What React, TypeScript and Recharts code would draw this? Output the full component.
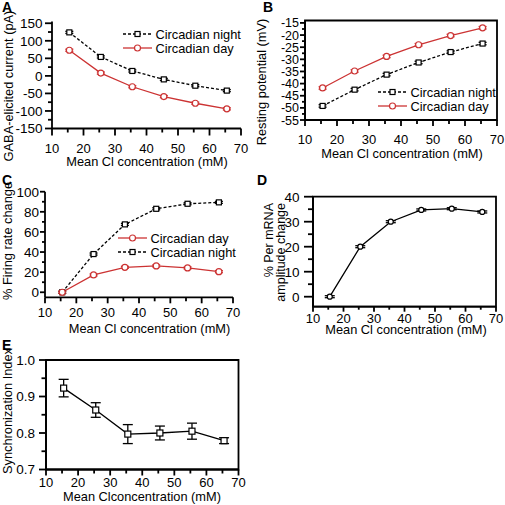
import React from "react";
import { LineChart, Line, XAxis, YAxis, ErrorBar, Legend, ReferenceArea } from "recharts";

const font = "'Liberation Sans', Arial, sans-serif";
const red = "#cc3333";

// shared x values (mean Cl- concentration, mM)
const conc = [15.5, 25.5, 35.5, 45.5, 55.5, 65.5];
const xMajor = [10, 20, 30, 40, 50, 60, 70];
const xMinor = [15, 25, 35, 45, 55, 65];

// A - GABA-elicited current (pA)
const aNight = [124, 54, 14, -10, -28, -42];
const aDay = [73, 8, -31, -59, -78, -94];
const aNightErr = [3, 3, 3, 3, 3, 3];
const aDayErr = [3, 3, 3, 3, 3, 3];
const aYMajor = [-150, -100, -50, 0, 50, 100, 150];
const aYMinor = [-125, -75, -25, 25, 75, 125];

// B - resting potential (mV)
const bNight = [-49.2, -42.5, -36.3, -31.3, -27, -23.5];
const bDay = [-41.8, -34.8, -28.8, -24, -20.2, -17];
const bNightErr = [0.5, 0.5, 0.5, 0.5, 0.5, 0.5];
const bDayErr = [0.5, 0.5, 0.5, 0.5, 0.5, 0.5];
const bYMajor = [-55, -50, -45, -40, -35, -30, -25, -20, -15];
const bYMinor = [-52.5, -47.5, -42.5, -37.5, -32.5, -27.5, -22.5, -17.5];

// C - % firing rate change
const cDay = [0, 17.2, 24.8, 26.2, 24.2, 20.5];
const cNight = [0, 38, 67.5, 83, 88, 89.4];
const cDayErr = [1, 1, 1, 1, 1, 1];
const cNightErr = [1, 1, 1, 1, 1, 1];
const cYMajor = [0, 20, 40, 60, 80, 100];
const cYMinor = [10, 30, 50, 70, 90];

// D - % Per mRNA amplitude change
const dPer = [0, 20, 30, 34.7, 35.2, 33.9];
const dPerErr = [0.4, 0.4, 0.4, 0.4, 0.4, 0.4];
const dYMajor = [0, 10, 20, 30, 40];
const dYMinor = [5, 15, 25, 35];

// E - synchronization index
const eSync = [0.923, 0.863, 0.797, 0.8, 0.805, 0.779];
const eSyncErr = [0.024, 0.02, 0.026, 0.019, 0.022, 0.008];
const eYMajor = [0.7, 0.8, 0.9, 1.0];
const eYMinor = [0.75, 0.85, 0.95];

type Series = {
  key: string;
  name: string;
  values: number[];
  errs: number[];
  color: string;
  dashed?: boolean;
  shape: "square" | "circle";
  size: number;
  cap: number;
};

type Box = { l: number; t: number; r: number; b: number };

type PanelProps = {
  left: number;
  top: number;
  width: number;
  height: number;
  plot: Box;
  yDomain: [number, number];
  yMajor: number[];
  yMinor: number[];
  yFmt?: (v: number) => string;
  yFont?: number;
  series: Series[];
  boxed?: boolean;
  legend?: { x: number; y: number; order: string[] };
  yTick: { major: number; minor: number; gap: number };
  xTick: { major: number; minor: number; gap: number };
};

const axisStroke = 1.8;
const isIn = (arr: number[], v: number) => arr.some((a) => Math.abs(a - v) < 1e-6);

function marker(shape: string, cx: number, cy: number, size: number, color: string, key?: string) {
  if (shape === "square") {
    return (
      <rect key={key} x={cx - size / 2} y={cy - size / 2} width={size} height={size} fill="#fff" stroke={color} strokeWidth={1.2} />
    );
  }
  return <circle key={key} cx={cx} cy={cy} r={size / 2} fill="#fff" stroke={color} strokeWidth={1.2} />;
}

function Panel(p: PanelProps) {
  const rows = conc.map((x, i) => {
    const row: Record<string, number> = { x };
    p.series.forEach((s) => {
      row[s.key] = s.values[i];
      row[s.key + "Err"] = s.errs[i];
    });
    return row;
  });
  const fmt = p.yFmt || ((v: number) => String(v));
  const yTicks = [...p.yMajor, ...p.yMinor].sort((a, b) => a - b);
  const xTicks = [...xMajor, ...xMinor].sort((a, b) => a - b);

  const yTickFn = (props: any) => {
    const { x, y, payload } = props;
    if (!isIn(p.yMajor, payload.value)) return <g />;
    return (
      <text x={x - p.yTick.gap} y={y} dy="0.36em" textAnchor="end" fontFamily={font} fontSize={p.yFont || 13.5} fill="#000">
        {fmt(payload.value)}
      </text>
    );
  };

  const xTickFn = (props: any) => {
    const { x, y, payload } = props;
    if (!isIn(xMajor, payload.value)) return <g />;
    return (
      <text x={x} y={y + p.xTick.gap} dy="0.71em" textAnchor="middle" fontFamily={font} fontSize={13} fill="#000">
        {payload.value}
      </text>
    );
  };

  const legendContent = () => {
    if (!p.legend) return null;
    const items = p.legend.order.map((k) => p.series.find((s) => s.key === k)!);
    return (
      <svg width={130} height={30} style={{ overflow: "visible" }}>
        {items.map((s, i) => (
          <g key={s.key}>
            <line x1={0} x2={29} y1={7 + i * 14} y2={7 + i * 14} stroke={s.color} strokeWidth={1.3} strokeDasharray={s.dashed ? "3 2" : undefined} />
            {marker(s.shape, 14.5, 7 + i * 14, s.size, s.color)}
            <text x={32.5} y={7 + i * 14} dy="0.36em" fontFamily={font} fontSize={12.8} fill="#000">
              {s.name}
            </text>
          </g>
        ))}
      </svg>
    );
  };

  const axisLine = { stroke: "#000", strokeWidth: axisStroke };

  return (
    <div style={{ position: "absolute", left: p.left, top: p.top }}>
      <LineChart
        width={p.width}
        height={p.height}
        data={rows}
        margin={{ top: p.plot.t - p.top, right: p.left + p.width - p.plot.r, left: 0, bottom: 0 }}
      >
        <XAxis
          type="number"
          dataKey="x"
          domain={[10, 70]}
          ticks={xTicks}
          interval={0}
          height={p.top + p.height - p.plot.b}
          tickSize={0}
          tickMargin={0}
          tickLine={false}
          axisLine={axisLine}
          tick={xTickFn}
        />
        <YAxis
          type="number"
          domain={p.yDomain}
          ticks={yTicks}
          interval={0}
          width={p.plot.l - p.left}
          tickSize={0}
          tickMargin={0}
          tickLine={false}
          axisLine={axisLine}
          tick={yTickFn}
          allowDataOverflow
        />
        {p.boxed && (
          <ReferenceArea x1={10} x2={70} y1={p.yDomain[0]} y2={p.yDomain[1]} fill="none" stroke="#000" strokeWidth={axisStroke} />
        )}
        {p.legend && (
          <Legend
            layout="vertical"
            align="center"
            verticalAlign="middle"
            content={legendContent}
            wrapperStyle={{ position: "absolute", left: p.legend.x, top: p.legend.y, width: 130, height: 30 }}
          />
        )}
        {p.series.map((s) => (
          <Line
            key={s.key}
            dataKey={s.key}
            name={s.name}
            stroke={s.color}
            strokeWidth={1.3}
            strokeDasharray={s.dashed ? "3 2" : undefined}
            isAnimationActive={false}
            dot={(d: any) => marker(s.shape, d.cx, d.cy, s.size, s.color, `${s.key}-${d.index}`)}
            activeDot={false}
          >
            <ErrorBar dataKey={s.key + "Err"} width={s.cap} stroke={s.color} strokeWidth={1.3} direction="y" />
          </Line>
        ))}
      </LineChart>
    </div>
  );
}

// tick marks for one panel, placed with the same linear mapping as the panel's axes
function TickMarks(p: PanelProps) {
  const [y0, y1] = p.yDomain;
  const yPix = (v: number) => p.plot.t + ((y1 - v) / (y1 - y0)) * (p.plot.b - p.plot.t);
  const xPix = (v: number) => p.plot.l + ((v - 10) / 60) * (p.plot.r - p.plot.l);
  return (
    <g stroke="#000" strokeWidth={axisStroke}>
      {[...p.yMajor, ...p.yMinor].map((v) => {
        const len = isIn(p.yMajor, v) ? p.yTick.major : p.yTick.minor;
        return <line key={`y${v}`} x1={p.plot.l} x2={p.plot.l - len} y1={yPix(v)} y2={yPix(v)} />;
      })}
      {[...xMajor, ...xMinor].map((v) => {
        const len = isIn(xMajor, v) ? p.xTick.major : p.xTick.minor;
        return <line key={`x${v}`} x1={xPix(v)} x2={xPix(v)} y1={p.plot.b} y2={p.plot.b + len} />;
      })}
    </g>
  );
}

const night = (values: number[], errs: number[]): Series => ({
  key: "night",
  name: "Circadian night",
  values,
  errs,
  color: "#000",
  dashed: true,
  shape: "square",
  size: 5,
  cap: 4,
});

const day = (values: number[], errs: number[]): Series => ({
  key: "day",
  name: "Circadian day",
  values,
  errs,
  color: red,
  shape: "circle",
  size: 6,
  cap: 4,
});

const panelA: PanelProps = {
  left: 0,
  top: 0,
  width: 250,
  height: 170,
  plot: { l: 52, t: 21.5, r: 241, b: 128.5 },
  yDomain: [-150, 155],
  yMajor: aYMajor,
  yMinor: aYMinor,
  series: [night(aNight, aNightErr), day(aDay, aDayErr)],
  legend: { x: 123, y: 27.3, order: ["night", "day"] },
  yTick: { major: 7, minor: 4, gap: 9.5 },
  xTick: { major: 7, minor: 4, gap: 15 },
};

const panelB: PanelProps = {
  left: 250,
  top: 0,
  width: 255,
  height: 170,
  plot: { l: 305, t: 20.5, r: 497, b: 120 },
  yDomain: [-55, -14],
  yMajor: bYMajor,
  yMinor: bYMinor,
  yFont: 12.5,
  series: [night(bNight, bNightErr), day(bDay, bDayErr)],
  boxed: true,
  legend: { x: 128, y: 85.3, order: ["night", "day"] },
  yTick: { major: 5, minor: 3, gap: 6 },
  xTick: { major: 6, minor: 4, gap: 15 },
};

const panelC: PanelProps = {
  left: 0,
  top: 165,
  width: 250,
  height: 175,
  plot: { l: 45, t: 191.7, r: 233, b: 297.3 },
  yDomain: [-5, 100],
  yMajor: cYMajor,
  yMinor: cYMinor,
  series: [night(cNight, cNightErr), day(cDay, cDayErr)],
  legend: { x: 118, y: 66.3, order: ["day", "night"] },
  yTick: { major: 5, minor: 3, gap: 6 },
  xTick: { major: 6, minor: 4, gap: 10.5 },
};

const panelD: PanelProps = {
  left: 250,
  top: 165,
  width: 255,
  height: 175,
  plot: { l: 313, t: 196.7, r: 496, b: 306.7 },
  yDomain: [-4, 40],
  yMajor: dYMajor,
  yMinor: dYMinor,
  series: [{ key: "per", name: "Per mRNA", values: dPer, errs: dPerErr, color: "#000", shape: "circle", size: 5, cap: 5 }],
  boxed: true,
  yTick: { major: 9, minor: 5, gap: 13.5 },
  xTick: { major: 5, minor: 3, gap: 7 },
};

const panelE: PanelProps = {
  left: 0,
  top: 335,
  width: 250,
  height: 170,
  plot: { l: 46, t: 360, r: 238.5, b: 469.5 },
  yDomain: [0.7, 1.0],
  yMajor: eYMajor,
  yMinor: eYMinor,
  yFmt: (v) => v.toFixed(1),
  series: [
    { key: "sync", name: "Synchronization Index", values: eSync, errs: eSyncErr, color: "#000", shape: "square", size: 6, cap: 5 },
  ],
  boxed: true,
  yTick: { major: 7, minor: 4.5, gap: 11 },
  xTick: { major: 6, minor: 4, gap: 8 },
};

const panels = [panelA, panelB, panelC, panelD, panelE];
const xTitle = "Mean Cl concentration (mM)";

export default function App() {
  return (
    <div style={{ position: "absolute", left: 0, top: 0, width: 505, height: 505, background: "#fff", overflow: "hidden" }}>
      {panels.map((p, i) => (
        <Panel key={i} {...p} />
      ))}
      <svg width={505} height={505} style={{ position: "absolute", left: 0, top: 0, pointerEvents: "none" }} fontFamily={font}>
        {panels.map((p, i) => (
          <TickMarks key={i} {...p} />
        ))}
        <g fontWeight="bold" fontSize={14}>
          <text x={2} y={12}>A</text>
          <text x={263} y={12}>B</text>
          <text x={2} y={185}>C</text>
          <text x={257} y={185}>D</text>
          <text x={2} y={350}>E</text>
        </g>
        <g fontSize={12.8} textAnchor="middle" dominantBaseline="central">
          <text x={147} y={161.5}>{xTitle}</text>
          <text x={402} y={153}>{xTitle}</text>
          <text x={149.5} y={328.5}>{xTitle}</text>
          <text x={406} y={329}>{xTitle}</text>
          <text x={142} y={496}>Mean Clconcentration (mM)</text>
          <text transform="translate(8,86) rotate(-90)">GABA-elicited current (pA)</text>
          <text transform="translate(261,82) rotate(-90)">Resting potential (mV)</text>
          <text transform="translate(7,241) rotate(-90)">% Firing rate change</text>
          <text transform="translate(7,411) rotate(-90)">Synchronization Index</text>
        </g>
        <g fontSize={12.5} textAnchor="end" dominantBaseline="central">
          <text transform="translate(269,203) rotate(-90)">% Per mRNA</text>
          <text transform="translate(281,203) rotate(-90)">amplitude change</text>
        </g>
      </svg>
    </div>
  );
}
